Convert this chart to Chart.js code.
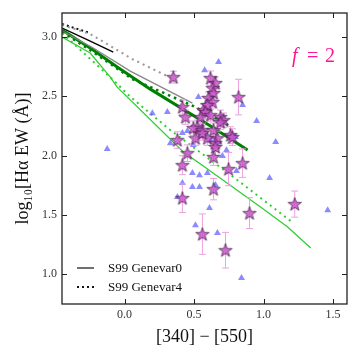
<!DOCTYPE html>
<html>
<head>
<meta charset="utf-8">
<script src="https://cdn.jsdelivr.net/npm/chart.js@4.4.0/dist/chart.umd.min.js"></script>
<style>
  html, body { margin: 0; padding: 0; background: #fff; }
</style>
</head>
<body>
<canvas id="myChart" width="360" height="360"></canvas>
<script>
// MODEL TRACKS
var blackSolidX = [-0.449, -0.262, -0.081];
var blackSolidY = [3.073, 2.972, 2.871];
var blackDotX = [-0.449, -0.247];
var blackDotY = [3.107, 3.031];
var graySolidX = [-0.449, -0.225, 0.041, 0.488];
var graySolidY = [3.048, 2.905, 2.711, 2.441];
var grayDotX = [-0.449, -0.247, 0.056, 0.366];
var grayDotY = [3.099, 3.023, 2.812, 2.635];
var greenSolidX = [-0.449, -0.226, -0.053, 0.185, 0.618, 0.885];
var greenSolidY = [3.056, 2.888, 2.745, 2.559, 2.248, 2.046];
var greenDotX = [-0.449, -0.226, 0.056, 0.495, 0.748];
var greenDotY = [3.040, 2.871, 2.644, 2.416, 2.256];
var limeSolidX = [-0.449, -0.247, -0.103, -0.053, 0.423, 0.546, 0.978, 1.173, 1.339];
var limeSolidY = [2.997, 2.863, 2.661, 2.576, 2.029, 1.929, 1.567, 1.398, 1.221];
var limeDotX = [-0.449, -0.081, 0.041, 0.329, 0.784, 1.216];
var limeDotY = [3.031, 2.635, 2.495, 2.214, 1.818, 1.430];

// TRIANGLES
var triX = [-0.125, 0.200, 0.308, 0.531, 0.576, 0.676, 0.849, 0.950, 1.087, 0.452,
            0.329, 0.416, 0.488, 0.539, 0.596, 0.488, 0.539, 0.380, 0.416, 0.510,
            0.704, 0.805, 1.043, 0.611, 0.668, 0.841, 1.461, 0.495, 0.690, 0.798,
            0.654, 0.618, 0.733];
var triY = [2.054, 2.357, 2.366, 2.492, 2.719, 2.787, 2.425, 2.290, 2.113, 2.206,
            2.104, 2.189, 1.852, 1.835, 1.852, 1.734, 1.734, 1.650, 1.768, 1.414,
            1.995, 1.869, 1.810, 1.558, 1.347, 0.968, 1.540, 2.088, 2.298, 2.155,
            1.751, 2.130, 2.045];

// STARS
var starX = [0.351, 0.416, 0.438, 0.524, 0.380, 0.567, 0.618, 0.654, 0.633, 0.640,
             0.603, 0.633, 0.596, 0.582, 0.546, 0.618, 0.690, 0.712, 0.495, 0.560,
             0.640, 0.762, 0.510, 0.596, 0.668, 0.654, 0.820, 0.640, 0.748, 0.849,
             0.640, 0.416, 0.452, 0.416, 0.899, 1.224, 0.560, 0.726, 0.654, 0.560,
             0.690, 0.776];
var starY = [2.660, 2.408, 2.323, 2.239, 2.130, 2.383, 2.652, 2.610, 2.568, 2.526,
             2.484, 2.450, 2.425, 2.366, 2.323, 2.340, 2.323, 2.298, 2.231, 2.214,
             2.214, 2.172, 2.146, 2.146, 2.146, 2.104, 2.492, 1.987, 1.886, 1.936,
             1.717, 1.919, 2.020, 1.641, 1.515, 1.591, 1.338, 1.203, 2.071, 2.189,
             2.281, 2.155];
var starErr = [0.05, 0.06, 0.06, 0.06, 0.07, 0.05, 0.06, 0.05, 0.05, 0.05,
               0.05, 0.05, 0.06, 0.06, 0.06, 0.05, 0.06, 0.06, 0.06, 0.06,
               0.06, 0.07, 0.06, 0.06, 0.06, 0.07, 0.15, 0.07, 0.14, 0.12,
               0.09, 0.08, 0.07, 0.12, 0.13, 0.11, 0.17, 0.15, 0.07, 0.06,
               0.06, 0.07];

var xTicks = [0.0, 0.5, 1.0, 1.5];
var yTicks = [1.0, 1.5, 2.0, 2.5, 3.0];
var legendLabels = ["S99 Genevar0", "S99 Genevar4"];

function pts(xs, ys) {
  return xs.map(function (x, i) { return { x: x, y: ys[i] }; });
}

function track(xs, ys, color, width, dash) {
  return {
    data: pts(xs, ys),
    showLine: true,
    borderColor: color,
    borderWidth: width,
    borderDash: dash || [],
    borderCapStyle: "butt",
    pointRadius: 0,
    fill: false,
    order: 3
  };
}

// error bar segments, null between them breaks the line
var errData = [];
starX.forEach(function (x, i) {
  errData.push({ x: x, y: starY[i] - starErr[i] });
  errData.push({ x: x, y: starY[i] + starErr[i] });
  errData.push({ x: x, y: null });
});

function makeStar() {
  var c = document.createElement("canvas");
  c.width = 16;
  c.height = 16;
  var g = c.getContext("2d");
  g.beginPath();
  for (var i = 0; i < 10; i++) {
    var r = i % 2 === 0 ? 7 : 2.8;
    var a = -Math.PI / 2 + i * Math.PI / 5;
    var px = 8 + r * Math.cos(a), py = 8.5 + r * Math.sin(a);
    if (i === 0) g.moveTo(px, py); else g.lineTo(px, py);
  }
  g.closePath();
  g.fillStyle = "rgba(204,85,204,0.85)";
  g.fill();
  g.lineWidth = 0.8;
  g.strokeStyle = "#4a2350";
  g.stroke();
  return c;
}

var framePlugin = {
  id: "frame",
  afterDatasetsDraw: function (chart) {
    var ctx = chart.ctx, a = chart.chartArea;
    var xs = chart.scales.x, ys = chart.scales.y;
    ctx.save();
    ctx.strokeStyle = "#222";
    ctx.lineWidth = 1;
    ctx.beginPath();
    xTicks.forEach(function (v) {
      var px = Math.round(xs.getPixelForValue(v)) + 0.5;
      ctx.moveTo(px, a.bottom); ctx.lineTo(px, a.bottom - 5);
      ctx.moveTo(px, a.top); ctx.lineTo(px, a.top + 5);
    });
    yTicks.forEach(function (v) {
      var py = Math.round(ys.getPixelForValue(v)) + 0.5;
      ctx.moveTo(a.left, py); ctx.lineTo(a.left + 5, py);
      ctx.moveTo(a.right, py); ctx.lineTo(a.right - 5, py);
    });
    ctx.stroke();
    ctx.lineWidth = 1.3;
    ctx.strokeRect(a.left, a.top, a.right - a.left, a.bottom - a.top);

    // legend
    ctx.strokeStyle = "#111";
    ctx.fillStyle = "#111";
    ctx.font = '13px "Liberation Serif"';
    ctx.textBaseline = "middle";
    ctx.lineWidth = 1.2;
    ctx.beginPath();
    ctx.moveTo(a.left + 15, a.bottom - 36);
    ctx.lineTo(a.left + 32, a.bottom - 36);
    ctx.stroke();
    ctx.fillText(legendLabels[0], a.left + 46, a.bottom - 35);
    ctx.lineWidth = 2;
    ctx.setLineDash([2, 3]);
    ctx.beginPath();
    ctx.moveTo(a.left + 15, a.bottom - 17);
    ctx.lineTo(a.left + 33, a.bottom - 17);
    ctx.stroke();
    ctx.setLineDash([]);
    ctx.fillText(legendLabels[1], a.left + 46, a.bottom - 16);

    // f = 2
    ctx.fillStyle = "#ff1493";
    ctx.textBaseline = "alphabetic";
    ctx.font = 'italic 20px "Liberation Serif"';
    ctx.fillText("f", a.right - 55, a.top + 49);
    ctx.font = '20px "Liberation Serif"';
    ctx.fillText("=", a.right - 40, a.top + 49);
    ctx.fillText("2", a.right - 22, a.top + 49);
    ctx.restore();
  }
};

new Chart("myChart", {
  type: "scatter",
  data: {
    datasets: [
      {
        data: pts(starX, starY),
        pointStyle: makeStar(),
        order: 0
      },
      {
        data: errData,
        showLine: true,
        spanGaps: false,
        borderColor: "#eda0e0",
        borderWidth: 1,
        pointStyle: "line",
        pointRadius: 3.5,
        pointBorderColor: "#eda0e0",
        pointBorderWidth: 1,
        order: 1
      },
      {
        data: pts(triX, triY),
        pointStyle: "triangle",
        pointRadius: 4,
        backgroundColor: "rgba(100,100,255,0.75)",
        borderWidth: 0,
        order: 2
      },
      track(limeSolidX, limeSolidY, "#32cd32", 1.3),
      track(limeDotX, limeDotY, "#32cd32", 2, [2, 4]),
      track(greenDotX, greenDotY, "#008000", 2.5, [2.5, 4]),
      track(graySolidX, graySolidY, "#888888", 1.3),
      track(grayDotX, grayDotY, "#999999", 2, [2, 4]),
      track(greenSolidX, greenSolidY, "#008000", 3),
      track(blackSolidX, blackSolidY, "#000000", 1.3),
      track(blackDotX, blackDotY, "#111111", 2, [2, 3])
    ]
  },
  options: {
    responsive: false,
    animation: false,
    devicePixelRatio: 1,
    layout: { padding: { left: 0, right: 13, top: 13, bottom: 0 } },
    plugins: {
      legend: { display: false },
      tooltip: { enabled: false }
    },
    scales: {
      x: {
        type: "linear",
        min: -0.45,
        max: 1.6,
        afterFit: function (s) { s.height = 56; },
        afterBuildTicks: function (s) {
          s.ticks = xTicks.map(function (v) { return { value: v }; });
        },
        grid: { display: false, drawTicks: false },
        border: { display: false },
        ticks: {
          padding: 4,
          color: "#333",
          font: { family: "Liberation Serif", size: 12 },
          callback: function (v) { return v.toFixed(1); }
        },
        title: {
          display: true,
          text: "[340] \u2212 [550]",
          color: "#111",
          font: { family: "Liberation Serif", size: 18, lineHeight: 1.2 },
          padding: { top: 12, bottom: 12 }
        }
      },
      y: {
        type: "linear",
        min: 0.75,
        max: 3.2,
        afterFit: function (s) { s.width = 62; },
        afterBuildTicks: function (s) {
          s.ticks = yTicks.map(function (v) { return { value: v }; });
        },
        grid: { display: false, drawTicks: false },
        border: { display: false },
        ticks: {
          padding: 5,
          color: "#333",
          font: { family: "Liberation Serif", size: 12 },
          callback: function (v) { return v.toFixed(1); }
        },
        title: {
          display: true,
          text: "log\u2081\u2080[H\u03b1 EW (\u00c5)]",
          color: "#111",
          font: { family: "Liberation Serif", size: 18, lineHeight: 1.2 },
          padding: { top: 12, bottom: 12 }
        }
      }
    }
  },
  plugins: [framePlugin]
});
</script>
</body>
</html>
